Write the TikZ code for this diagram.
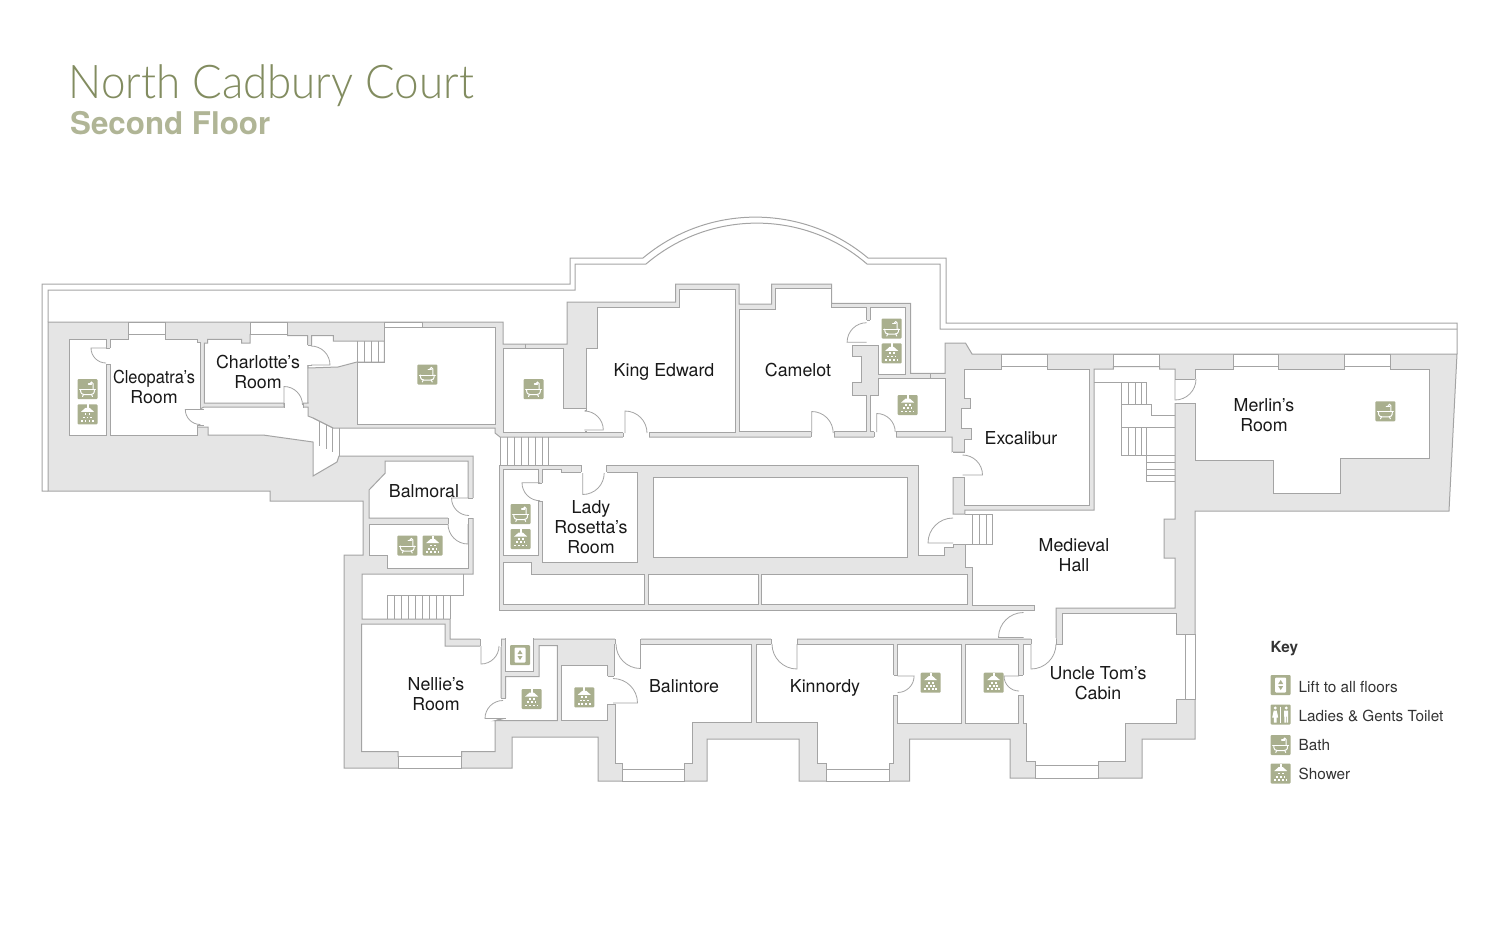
\documentclass[tikz,border=0pt]{standalone}
\usepackage{fontspec}
\setmainfont{TeX Gyre Heros}
\newfontfamily\titlefont[UprightFont=* Light]{Lato}
\definecolor{wallline}{HTML}{A4A4A4}
\definecolor{wallfill}{HTML}{E5E5E5}
\definecolor{sage}{HTML}{A9AF8E}
\definecolor{titlegreen}{HTML}{828C60}
\definecolor{subgreen}{HTML}{B0B596}
\newcommand{\hdoorgap}[4]{
  \fill[white] (#1,#3-1) rectangle (#2,#4+1);
  \draw[wall] (#1,#3) -- (#1,#4) (#2,#3) -- (#2,#4);
}
\newcommand{\vdoorgap}[4]{
  \fill[white] (#1-1,#3) rectangle (#2+1,#4);
  \draw[wall] (#1,#3) -- (#2,#3) (#1,#4) -- (#2,#4);
}
\newcommand{\doorswing}[5]{
  \draw[door] (#1,#2) -- ++(#3:#5) arc[start angle=#3,end angle=#4,radius=#5];
}
\tikzset{
  wall/.style={draw=wallline,line width=1pt,line join=miter},
  mass/.style={wall,fill=wallfill},
  room/.style={wall,fill=white},
  rail/.style={draw=wallline,line width=0.8pt},
  door/.style={draw=wallline,line width=0.8pt},
  label/.style={align=center,text=black!90,font=\fontsize{17.8}{19.8}\selectfont,inner sep=0pt},
  keylabel/.style={anchor=west,text=black!80,font=\fontsize{15.3}{17}\selectfont,inner sep=0pt},
  glyph/.style={draw=white,line width=1pt,line cap=round},
  iconbg/.style={fill=sage,rounded corners=1pt},
  bathicon/.pic={
    \fill[iconbg] (-10,-10) rectangle (10,10);
    \draw[glyph] (-8,0.5) -- (8,0.5);
    \draw[glyph] (-7,0.5) .. controls (-7,5) and (-5,5.5) .. (-3.5,5.5) -- (3.5,5.5) .. controls (5,5.5) and (7,5) .. (7,0.5);
    \draw[glyph] (-4,5.5) -- (-5,7.5) (4,5.5) -- (5,7.5);
    \draw[glyph] (5.5,0.5) -- (5.5,-5.5) .. controls (5.5,-7.5) and (2.5,-7.5) .. (2.5,-5.5);
    \draw[glyph,line width=1.4pt] (1,-5) -- (4,-5);
  },
  showericon/.pic={
    \fill[iconbg] (-10,-10) rectangle (10,10);
    \fill[white] (-1,-10) rectangle (1,-6.5);
    \fill[white] (-2,-6.5) -- (2,-6.5) -- (6.5,-2.5) -- (-6.5,-2.5) -- cycle;
    \foreach \dx in {-2,2} \fill[white] (\dx-0.9,-1) rectangle (\dx+0.9,0.8);
    \foreach \dx in {-3.7,0,3.7} \fill[white] (\dx-0.9,2.2) rectangle (\dx+0.9,4);
    \foreach \dx in {-5.7,-2,2,5.7} \fill[white] (\dx-0.9,5.6) rectangle (\dx+0.9,7.4);
  },
  lifticon/.pic={
    \fill[iconbg] (-10,-10) rectangle (10,10);
    \fill[white,rounded corners=1pt] (-5.5,-7.5) rectangle (5.5,7.5);
    \fill[sage] (-2.5,-1) -- (2.5,-1) -- (0,-5) -- cycle;
    \fill[sage] (-2.5,1) -- (2.5,1) -- (0,5) -- cycle;
  },
  toileticon/.pic={
    \fill[iconbg] (-10,-10) rectangle (10,10);
    \fill[white] (-5.5,-6.5) circle (1.7) (5.5,-6.5) circle (1.7);
    \fill[white] (-7,-4) -- (-4,-4) -- (-2.5,3) -- (-4.2,3) -- (-4.2,8) -- (-6.8,8) -- (-6.8,3) -- (-8.5,3) -- cycle;
    \fill[white] (3.5,-4) rectangle (7.5,2) (3.7,2) rectangle (5.2,8) (5.8,2) rectangle (7.3,8);
    \draw[white,line width=0.9pt] (0,-8) -- (0,8);
  }
}
\begin{document}
\begin{tikzpicture}[x=1pt,y=-1pt]
  \useasboundingbox (0,0) rectangle (1500,948);
  \node[anchor=base west,inner sep=0pt,text=titlegreen,font=\titlefont\fontsize{46.5}{50}\selectfont] (title) at (68.5,98) {\scalebox{0.945}[1]{North Cadbury Court}};
  \node[anchor=base west,inner sep=0pt,text=subgreen,font=\bfseries\fontsize{31.3}{34}\selectfont] (subtitle) at (70,134) {Second Floor};

  \draw[wall] (48,491) -- (42,491) -- (42,284) -- (570,284) -- (570,258) -- (643,258)
    .. controls (708,203.5) and (803,203.5) .. (868,258) -- (946,258) -- (946,323) -- (1457,323) -- (1457,354);
  \draw[wall] (48,322) -- (48,290) -- (575,290) -- (575,264) -- (646,264)
    .. controls (710,209.5) and (804,209.5) .. (867,264) -- (940,264) -- (940,329) -- (1457,329);

  \draw[mass] (48,322) -- (503,322) -- (503,344) -- (567,344) -- (567,302) -- (675.7,302) -- (675.7,284) -- (739,284)
    -- (739,304) -- (771.7,304) -- (771.7,284) -- (831.7,284) -- (831.7,303.3) -- (910.7,303.3) -- (910.7,373.3)
    -- (945,373.3) -- (945,343) -- (965.5,343) -- (972,354) -- (1457,354) -- (1449,511) -- (1195,511) -- (1195,739)
    -- (1142,739) -- (1142,778) -- (1010,778) -- (1010,739) -- (909.5,739) -- (909.5,781) -- (799,781) -- (799,739)
    -- (707,739) -- (707,781) -- (598,781) -- (598,737) -- (512,737) -- (512,768) -- (344,768) -- (344,555)
    -- (363,555) -- (363,501) -- (270,501) -- (270,491) -- (48,491) -- cycle;

  \draw[room] (204,407) -- (284,407) -- (284,403) -- (303,403) -- (303,407) -- (308,407) -- (308,416) -- (313,418)
    -- (333,428) -- (495,428) -- (495,433) -- (500,437) -- (952,437) -- (952,452) -- (964.8,452) -- (964.8,477)
    -- (953,477) -- (953,514) -- (964.8,514) -- (964.8,510) -- (1094,510) -- (1094,369) -- (1113.4,369)
    -- (1113.4,366.7) -- (1159.7,366.7) -- (1159.7,369) -- (1175,369) -- (1175,519) -- (1164,519) -- (1164,558)
    -- (1175,558) -- (1175,608) -- (1056,608) -- (1056,639) -- (450,639) -- (450,619) -- (362,619) -- (362,574)
    -- (473,574) -- (473,456) -- (339,456) -- (337,462) -- (313,476) -- (313,442) -- (263,435) -- (208,435)
    -- (208,427) -- (197,427) -- (200,409) -- cycle;

  \draw[mass] (499,465) -- (918,465) -- (918,555) -- (944,555) -- (944,547) -- (953,547) -- (953,544) -- (965.5,544)
    -- (965.5,567) -- (972,567) -- (972,605) -- (1034,605) -- (1034,610) -- (499,610) -- cycle;

  \draw[room] (69.3,339.3) -- (106,339.3) -- (106,435) -- (69.3,435) -- cycle;
  \draw[room] (110,339.3) -- (128,339.3) -- (128,334.3) -- (165,334.3) -- (165,339.3) -- (197,339.3) -- (197,342)
    -- (200.3,342) -- (200.3,425) -- (197,425) -- (197,435) -- (110,435) -- cycle;
  \draw[room] (204.3,343) -- (207.7,343) -- (207.7,339.3) -- (241.7,339.3) -- (241.7,343) -- (250,343) -- (250,334.3)
    -- (287.7,334.3) -- (287.7,335.7) -- (307.7,335.7) -- (307.7,344) -- (308,403) -- (204.3,403) -- cycle;
  \draw[room] (311.7,335.7) -- (333.3,335.7) -- (333.3,341) -- (384.3,341) -- (384.3,362) -- (357,362) -- (338,367)
    -- (308,368) -- (308,365) -- (311.7,365) -- cycle;
  \draw[room] (384.3,327.7) -- (495,327.7) -- (495,424) -- (357.3,424) -- (357.3,362) -- (384.3,362) -- cycle;
  \draw[room] (503,348) -- (563.3,348) -- (563.3,408.7) -- (586,408.7) -- (586,432.7) -- (503,432.7) -- cycle;
  \draw[room] (597,307) -- (679,307) -- (679,289) -- (735,289) -- (735,432.7) -- (586,432.7) -- (586,348) -- (597,348) -- cycle;
  \draw[room] (739.3,309) -- (775.7,309) -- (775.7,288.3) -- (831.7,288.3) -- (831.7,307.7) -- (866.7,307.7) -- (866.7,345)
    -- (852.3,345) -- (852.3,356.7) -- (861.7,356.7) -- (861.7,382.3) -- (852.3,382.3) -- (852.3,395) -- (866.7,395)
    -- (866.7,431.7) -- (739.3,431.7) -- cycle;
  \draw[room] (870,307.7) -- (905.7,307.7) -- (905.7,374.3) -- (878.3,374.3) -- (878.3,345) -- (870,345) -- cycle;
  \draw[room] (878.3,378.3) -- (945,378.3) -- (945,431.7) -- (870,431.7) -- (870,395) -- (878.3,395) -- cycle;
  \draw[room] (964.8,369.3) -- (1001,369.3) -- (1001,366.7) -- (1047,366.7) -- (1047,369.3) -- (1089.5,369.3) -- (1089.5,505.7)
    -- (964.8,505.7) -- (964.8,452) -- (964.8,439.3) -- (971.2,439.3) -- (971.2,428.3) -- (961,428.3) -- (961,408.3)
    -- (970.5,408.3) -- (970.5,398.3) -- (964.8,398.3) -- cycle;
  \draw[room] (1195,369.3) -- (1233,369.3) -- (1233,366.7) -- (1278.6,366.7) -- (1278.6,369.3) -- (1344,369.3) -- (1344,366.7)
    -- (1390,366.7) -- (1390,369.3) -- (1429.3,369.3) -- (1429.3,458.3) -- (1340.5,458.3) -- (1340.5,493.7) -- (1273.2,493.7)
    -- (1273.2,460) -- (1195,460) -- cycle;
  \draw[room] (385,461) -- (468,461) -- (468,497.7) -- (469,518) -- (369,518) -- (369,490) -- (385,473.3) -- cycle;
  \draw[room] (369,524) -- (448,524) -- (448,518) -- (468,518) -- (468,568) -- (387,568) -- (387,555) -- (369,555) -- cycle;
  \draw[room] (503.3,469.3) -- (538.3,469.3) -- (538.3,555) -- (503.3,555) -- cycle;
  \draw[room] (542.3,469.3) -- (561.7,469.3) -- (561.7,472.3) -- (637.7,472.3) -- (637.7,562.3) -- (542.3,562.3) -- cycle;
  \draw[room] (653,477) rectangle (907,557);
  \draw[room] (503.3,562.3) -- (531.7,562.3) -- (531.7,574) -- (644,574) -- (644,604) -- (503.3,604) -- cycle;
  \draw[room] (648.3,574) rectangle (758,604);
  \draw[room] (761.5,574) rectangle (967.5,604);
  \draw[room] (361.7,624) -- (445,624) -- (445,646) -- (501,646) -- (501,718.5) -- (495,721) -- (495,751.7) -- (461.7,751.7)
    -- (461.7,756.7) -- (398,756.7) -- (398,751.7) -- (361.7,751.7) -- cycle;
  \draw[room] (505.7,639) -- (533.3,639) -- (533.3,671.7) -- (505.7,671.7) -- cycle;
  \draw[room] (539,645.7) -- (557.3,645.7) -- (557.3,720.7) -- (495,720.7) -- (505.7,718) -- (505.7,676.7) -- (539,676.7) -- cycle;
  \draw[room] (561.7,665.7) -- (607.7,665.7) -- (607.7,720.7) -- (561.7,720.7) -- cycle;
  \draw[room] (640.5,644.3) -- (751.6,644.3) -- (751.6,722.3) -- (692,722.3) -- (692,763.3) -- (684.5,763.3) -- (684.5,769)
    -- (622,769) -- (622,763.3) -- (615,763.3) -- (615,704) -- (607.7,704) -- (607.7,676) -- (614.3,676) -- (614.3,644.3) -- cycle;
  \draw[room] (756.7,644.3) -- (893.6,644.3) -- (893.6,763.3) -- (889,763.3) -- (889,769) -- (826,769) -- (826,763.3)
    -- (817,763.3) -- (817,722.3) -- (756.7,722.3) -- cycle;
  \draw[room] (897.6,644.3) rectangle (961,723);
  \draw[room] (965.9,644.3) rectangle (1018,723);
  \draw[room] (1062,613.3) -- (1176,613.3) -- (1176,634.3) -- (1185.3,634.3) -- (1185.3,699) -- (1176,699) -- (1176,723)
    -- (1125.8,723) -- (1125.8,761) -- (1098,761) -- (1098,765.7) -- (1035,765.7) -- (1035,761) -- (1026.6,761) -- (1026.6,723)
    -- (1023,723) -- (1023,644.3) -- (1062,644.3) -- cycle;

  \foreach \xa/\ya/\xb/\yb in {128/322/165/334.3,250/322/287.7/334.3,384.3/322/422.7/327.7,1001/354/1047/366.7,
    1113.4/354/1159.7/366.7,1233/354/1278.6/366.7,1344/354/1390/366.7,398/756.7/461.7/768,622/769/684.5/781,
    826/769/889/781,1035/765.7/1098/778,1185.3/634.3/1195/699}
    \draw[room] (\xa,\ya) rectangle (\xb,\yb);
  \draw[rail] (525,344) -- (525,348) (930,373.3) -- (930,378.3);

  \vdoorgap{106}{110}{348}{364}
  \vdoorgap{200.3}{204.3}{409}{425}
  \hdoorgap{284}{303}{402.5}{407.5}
  \vdoorgap{307.7}{311.7}{345}{365}
  \vdoorgap{468}{473}{498}{518}
  \hdoorgap{448}{468}{518}{524}
  \vdoorgap{538.3}{542.3}{483}{501}
  \hdoorgap{581}{606.7}{465}{472.3}
  \vdoorgap{585}{587}{410}{431}
  \hdoorgap{623}{649}{432.7}{437}
  \hdoorgap{811}{834}{431.7}{437}
  \hdoorgap{874}{896}{431.7}{437}
  \vdoorgap{866.7}{870}{320}{345}
  \vdoorgap{953}{964.8}{452}{477}
  \vdoorgap{1175}{1195}{379}{403}
  \hdoorgap{480}{501}{639}{646}
  \vdoorgap{501}{505.7}{698}{718.5}
  \vdoorgap{607.7}{614.3}{676}{704}
  \hdoorgap{615}{640.5}{639}{644.3}
  \hdoorgap{771}{797}{639}{644.3}
  \vdoorgap{893.6}{897.6}{675}{695}
  \vdoorgap{1018}{1023}{675}{695}
  \hdoorgap{1031}{1056}{639}{644.3}
  \hdoorgap{505.7}{533.3}{638}{640}
  \fill[white] (951,519) rectangle (955,542);
  \fill[white] (1035,611.5) rectangle (1055,638);

  \doorswing{106}{348}{180}{90}{15}
  \doorswing{200.3}{409.5}{180}{90}{15}
  \doorswing{284}{405}{270}{360}{18.5}
  \doorswing{311}{365}{0}{-90}{19}
  \doorswing{469}{498}{180}{90}{17.5}
  \doorswing{468}{524}{90}{180}{20}
  \doorswing{540}{482.7}{180}{90}{18}
  \doorswing{582.7}{473}{90}{0}{21.5}
  \doorswing{584.3}{430}{0}{-90}{19}
  \doorswing{625}{433}{270}{360}{22}
  \doorswing{811.7}{433}{270}{360}{21.5}
  \doorswing{876.7}{432}{270}{360}{18.5}
  \doorswing{866.7}{342.3}{180}{270}{19.6}
  \doorswing{962.5}{475}{0}{-90}{20}
  \doorswing{953}{543}{180}{270}{25}
  \doorswing{1175}{379}{90}{0}{21}
  \doorswing{481}{646}{90}{0}{18}
  \doorswing{503}{718.5}{180}{270}{18}
  \doorswing{613}{703}{0}{-90}{24.5}
  \doorswing{640.5}{644}{90}{180}{24.5}
  \doorswing{797}{644}{90}{180}{25}
  \doorswing{897.6}{676}{0}{90}{16.5}
  \doorswing{1019}{676}{180}{90}{15}
  \doorswing{1031}{644}{90}{0}{25}
  \doorswing{1023.5}{637.5}{180}{270}{25}

  \begin{scope}[rail]
    \draw (313,418) -- (333,428);
    \foreach \x/\ya/\yb in {319.3/421/445.5,326/424.5/449,332.7/427.7/452,339/428/455.5}
      \draw (\x,\ya) -- (\x,\yb);
    \foreach \x in {357.3,364.3,371.7,378.3}
      \draw (\x,341) -- (\x,362);
    \foreach \x in {500,507,514,521,528,535,542,548.5}
      \draw (\x,437) -- (\x,465);
    \foreach \x in {387,394,401,408,415,422,429,436,443,450}
      \draw (\x,595) -- (\x,619);
    \draw (463,574) -- (463,595) -- (387,595);
    \foreach \x in {972,979.7,986.8,992.5}
      \draw (\x,514) -- (\x,544);
    \draw (965,514) -- (992.5,514) (965,544) -- (992.5,544);
    \draw (1094,382.3) -- (1146,382.3) -- (1146,404.3) (1121,382.3) -- (1121,455.7) -- (1175,455.7);
    \draw (1121,404.3) -- (1151.5,404.3) -- (1151.5,415) -- (1175,415) (1121,427.3) -- (1175,427.3);
    \foreach \x in {1128.3,1135,1141}
      \draw (\x,382.3) -- (\x,404.3) (\x,427.3) -- (\x,455.7);
    \draw (1146,427.3) -- (1146,481);
    \foreach \y in {462.7,469,475,481}
      \draw (1146,\y) -- (1175,\y);
  \end{scope}

  \foreach \x/\y in {87.5/389,427.3/374.5,533.5/389,891.7/328.5,1385.4/411.3,520.7/514,407.3/545.5,1280.7/745}
    \pic at (\x,\y) {bathicon};
  \foreach \x/\y in {87.5/414.3,891.7/353.3,907.7/405,520.7/539,432.7/545.5,531.7/699,584.3/697.3,930.6/682.7,993.6/682.7,1280.7/773.5}
    \pic at (\x,\y) {showericon};
  \foreach \x/\y in {520/655,1280.7/685}
    \pic at (\x,\y) {lifticon};
  \pic at (1280.7,714.5) {toileticon};

  \node[label] (cleopatra) at (154,387) {\scalebox{0.92}[1]{Cleopatra’s}\\Room};
  \node[label] (charlotte) at (258,372) {Charlotte’s\\Room};
  \node[label] (kingedward) at (664,372) {King Edward};
  \node[label] (camelot) at (798,370) {Camelot};
  \node[label] (excalibur) at (1021,438) {Excalibur};
  \node[label] (merlin) at (1264,415) {Merlin’s\\Room};
  \node[label] (balmoral) at (424,491) {Balmoral};
  \node[label] (rosetta) at (591,527) {Lady\\Rosetta’s\\Room};
  \node[label] (hall) at (1074,555) {Medieval\\Hall};
  \node[label] (nellie) at (436,694) {Nellie’s\\Room};
  \node[label] (balintore) at (684,686) {Balintore};
  \node[label] (kinnordy) at (825,688) {Kinnordy};
  \node[label] (uncletom) at (1098,683.5) {Uncle Tom’s\\Cabin};

  \node[keylabel,font=\bfseries\fontsize{15.3}{17}\selectfont] (key) at (1270.5,649) {Key};
  \node[keylabel] (liftkey) at (1298.5,687) {Lift to all floors};
  \node[keylabel] (toiletkey) at (1298.5,716) {Ladies \& Gents Toilet};
  \node[keylabel] (bathkey) at (1298.5,745) {Bath};
  \node[keylabel] (showerkey) at (1298.5,774) {Shower};
\end{tikzpicture}
\end{document}
